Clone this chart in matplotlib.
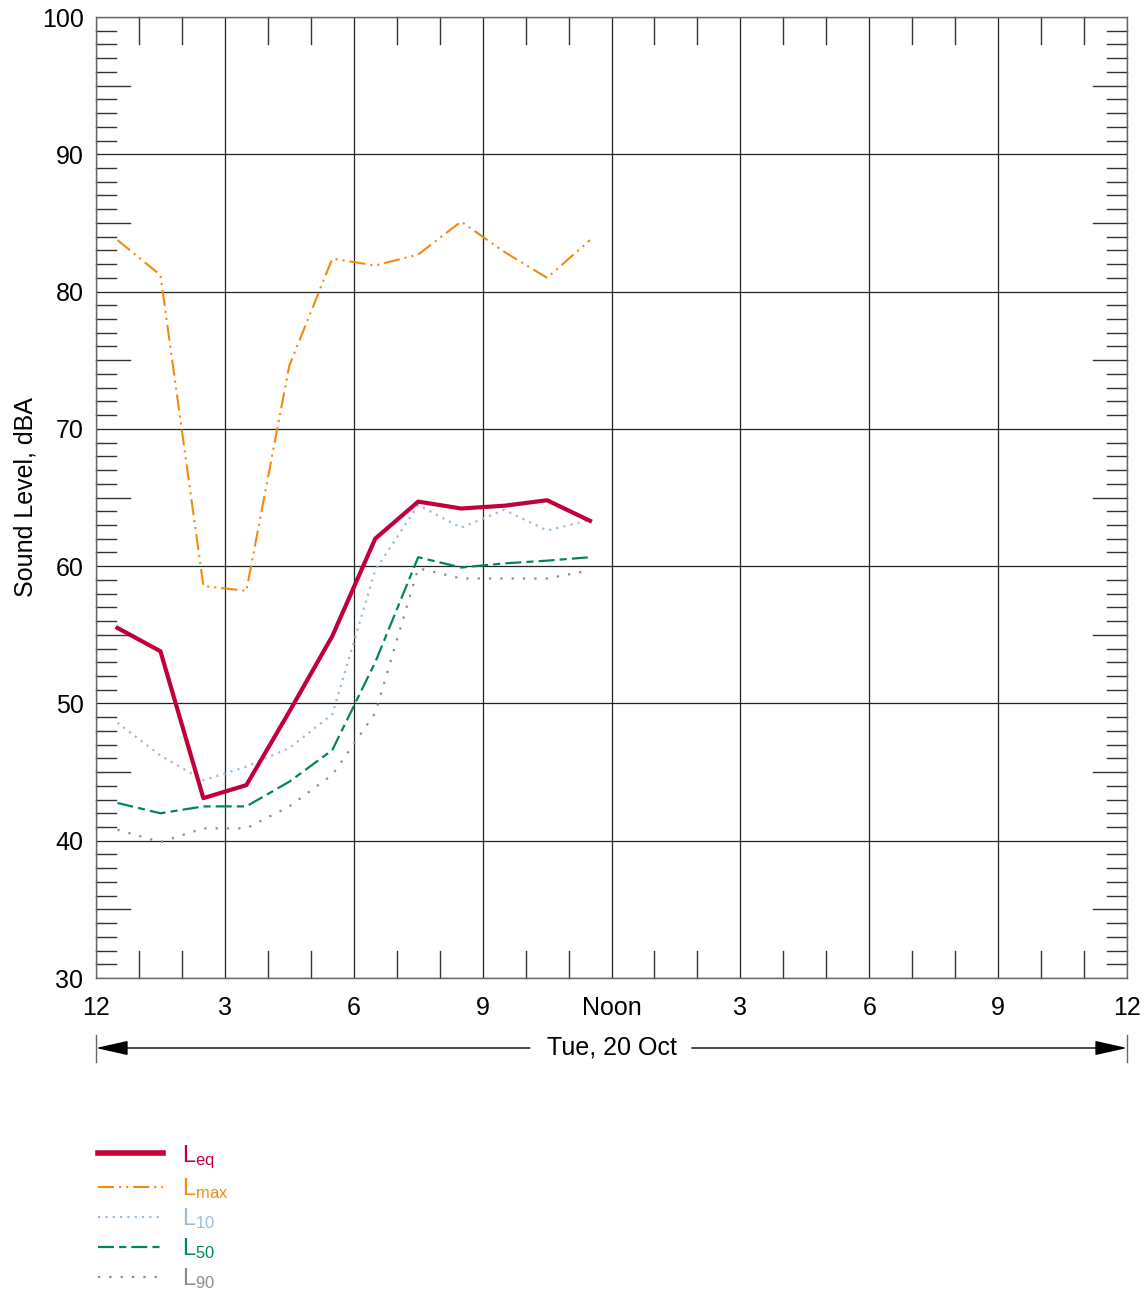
import matplotlib
matplotlib.use("Agg")
import matplotlib.pyplot as plt
import matplotlib.transforms as mtransforms

plt.rcParams['font.family'] = ['Liberation Sans', 'DejaVu Sans']
plt.rcParams['mathtext.fontset'] = 'custom'
plt.rcParams['mathtext.rm'] = 'Liberation Sans'
plt.rcParams['mathtext.it'] = 'Liberation Sans'

hours = [0.5, 1.5, 2.5, 3.5, 4.5, 5.5, 6.5, 7.5, 8.5, 9.5, 10.5, 11.5]
leq = [55.5, 53.8, 43.1, 44.05, 49.4, 54.9, 62.0, 64.7, 64.2, 64.4, 64.8, 63.3]
lmax = [83.75, 81.2, 58.55, 58.2, 74.6, 82.4, 81.9, 82.7, 85.1, 82.9, 81.0, 83.75]
l10 = [48.6, 46.2, 44.4, 45.4, 46.75, 49.2, 59.7, 64.45, 62.8, 64.1, 62.6, 63.35]
l50 = [42.75, 42.0, 42.5, 42.5, 44.3, 46.6, 53.0, 60.65, 59.9, 60.2, 60.4, 60.65]
l90 = [40.8, 39.9, 40.9, 40.9, 42.5, 44.8, 49.3, 59.85, 59.1, 59.1, 59.1, 59.7]

xtick_pos = [0, 3, 6, 9, 12, 15, 18, 21, 24]
xtick_labels = ['12', '3', '6', '9', 'Noon', '3', '6', '9', '12']
date_label = 'Tue, 20 Oct'

fig = plt.figure(figsize=(11.47, 12.91), dpi=100)
ax = fig.add_axes([96/1147, 1-978/1291, (1127-96)/1147, (978-17)/1291])
ax.set_xlim(0, 24)
ax.set_ylim(30, 100)

ax.plot(hours, lmax, color='#F28A0E', lw=1.5, dashes=(7.7, 2.4, 1, 2.4, 1, 2.4), label=r'L$_\mathrm{max}$')
ax.plot(hours, l10, color='#9BBCDD', lw=1.6, dashes=(1, 2.3), label=r'L$_\mathrm{10}$')
ax.plot(hours, l50, color='#00865A', lw=1.6, dashes=(7.2, 2.3, 3.2, 2.3), label=r'L$_\mathrm{50}$')
ax.plot(hours, l90, color='#8C8C8C', lw=1.6, dashes=(1, 4.1), label=r'L$_\mathrm{90}$')
ax.plot(hours, leq, color='#C1003A', lw=3.0, label=r'L$_\mathrm{eq}$')

fs = 18
ax.set_xticks(xtick_pos)
ax.set_xticklabels(xtick_labels, fontsize=fs)
ax.set_yticks(range(30, 101, 10))
ax.set_yticklabels([str(v) for v in range(30, 101, 10)], fontsize=fs)
ax.tick_params(axis='y', which='major', length=0, pad=9)
ax.tick_params(axis='x', which='major', length=0, pad=13)
ax.grid(True, color='#222222', lw=0.9)
ax.set_axisbelow(True)
for s in ax.spines.values():
    s.set_color('#666666')
    s.set_linewidth(1.0)

# custom inward ticks
trans_y = mtransforms.blended_transform_factory(ax.transAxes, ax.transData)
trans_x = mtransforms.blended_transform_factory(ax.transData, ax.transAxes)
axw_px = 1127 - 96
axh_px = 978 - 17
for v in range(31, 100):
    if v % 10 == 0:
        continue
    L = 34 if v % 5 == 0 else 20
    col = '#333333'
    ax.plot([0, L/axw_px], [v, v], transform=trans_y, color=col, lw=1.0, clip_on=False)
    ax.plot([1, 1-L/axw_px], [v, v], transform=trans_y, color=col, lw=1.0, clip_on=False)
for h in range(1, 24):
    if h % 3 == 0:
        continue
    L = 27
    ax.plot([h, h], [1, 1-L/axh_px], transform=trans_x, color='#333333', lw=1.0, clip_on=False)
    ax.plot([h, h], [0, L/axh_px], transform=trans_x, color='#333333', lw=1.0, clip_on=False)

ax.set_ylabel('Sound Level, dBA', fontsize=fs, labelpad=3)

# date span arrow
ya = -(1048-978)/axh_px
ax.text(12, ya, date_label, transform=trans_x, ha='center', va='center', fontsize=fs)
astyle = '-|>,head_length=2.0,head_width=0.45'
ax.annotate('', xy=(0, ya), xytext=(10.1, ya), xycoords=trans_x, textcoords=trans_x,
            arrowprops=dict(arrowstyle=astyle, color='black', lw=1.0, shrinkA=0, shrinkB=0))
ax.annotate('', xy=(24, ya), xytext=(13.87, ya), xycoords=trans_x, textcoords=trans_x,
            arrowprops=dict(arrowstyle=astyle, color='black', lw=1.0, shrinkA=0, shrinkB=0))
for xx in (0, 24):
    ax.plot([xx, xx], [-(1035-978)/axh_px, -(1062-978)/axh_px], transform=trans_x,
            color='#666666', lw=1.0, clip_on=False)

handles, labels = ax.get_legend_handles_labels()
order = [4, 0, 1, 2, 3]
leg = ax.legend([handles[i] for i in order], [labels[i] for i in order],
                loc='upper left', bbox_to_anchor=(77/1147, 1-1122/1291), bbox_transform=fig.transFigure,
                frameon=False, fontsize=17, handlelength=2.75, handletextpad=0.8,
                labelspacing=0.22, labelcolor='linecolor')
leg.get_lines()[0].set_linewidth(4.0)

fig.savefig('out.png', dpi=100)
